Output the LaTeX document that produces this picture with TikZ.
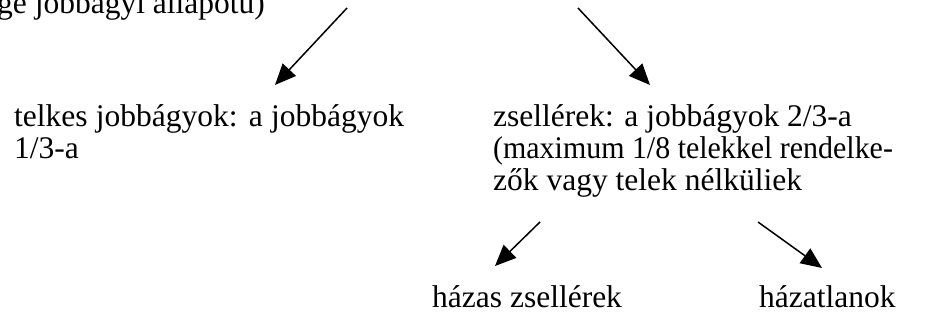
\documentclass[tikz,border=0pt]{standalone}
\usepackage{fontspec}
\setmainfont{Liberation Serif}
\usetikzlibrary{arrows.meta}
\begin{document}
\begin{tikzpicture}[x=1pt,y=-1pt,
  txt/.style={anchor=base west, inner sep=0pt, font=\fontsize{31.5}{33}\selectfont},
  arr/.style={line width=1.5pt, -{Triangle[length=21pt,width=18pt]}}]
\useasboundingbox (0,0) rectangle (925,321);
\node[txt] (top) at (-3,14) {ge jobbágyi állapotú)};
\node[txt] (l1) at (14,126) {\makebox[390pt][s]{telkes jobbágyok: a jobbágyok}};
\node[txt] (l2) at (14,158) {1/3-a};
\node[txt] (r1) at (493,126) {zsellérek: a jobbágyok 2/3-a};
\node[txt] (r2) at (493,158) {\scalebox{0.95}[1]{(maximum 1/8 telekkel rendelke-}};
\node[txt] (r3) at (493,190) {zők vagy telek nélküliek};
\node[txt] (b1) at (432,307) {házas zsellérek};
\node[txt] (b2) at (759,307) {házatlanok};
\coordinate (a1s) at (347,8);  \coordinate (a1e) at (275,85);
\coordinate (a2s) at (578,8);  \coordinate (a2e) at (650,85);
\coordinate (a3s) at (540,222); \coordinate (a3e) at (495,266);
\coordinate (a4s) at (758,222); \coordinate (a4e) at (822,268);
\draw[arr] (a1s) -- (a1e);
\draw[arr] (a2s) -- (a2e);
\draw[arr] (a3s) -- (a3e);
\draw[arr] (a4s) -- (a4e);
\end{tikzpicture}
\end{document}
